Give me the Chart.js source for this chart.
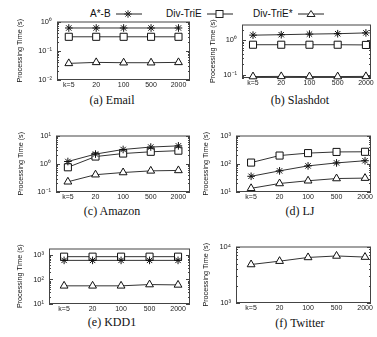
<!DOCTYPE html>
<html>
<head>
<meta charset="utf-8">
<script src="https://cdn.jsdelivr.net/npm/chart.js@4/dist/chart.umd.min.js"></script>
<style>
body{margin:0;background:#fff;width:377px;height:337px;position:relative;overflow:hidden;font-family:"Liberation Sans",Arial,sans-serif;color:#111}
canvas{position:absolute}
.cap{position:absolute;width:190px;text-align:center;font-family:"Liberation Serif","Times New Roman",serif;font-size:12px;line-height:14px}
.lg{position:absolute;top:8px;font-size:10px;line-height:12px}
svg{position:absolute;top:9px;overflow:visible}
</style>
</head>
<body>
<span class="lg" style="left:90px">A*-B</span>
<svg style="left:116px" width="27" height="10"><g stroke="#222" stroke-width="1" fill="#fff">
<line x1="0" y1="5" x2="26" y2="5"/><line x1="8.3" y1="5" x2="15.7" y2="5"/><line x1="12" y1="1.3" x2="12" y2="8.7"/><line x1="9.4" y1="2.4" x2="14.6" y2="7.6"/><line x1="9.4" y1="7.6" x2="14.6" y2="2.4"/></g></svg>
<span class="lg" style="left:166px">Div-TriE</span>
<svg style="left:207px" width="27" height="10"><g stroke="#222" stroke-width="1" fill="#fff">
<line x1="0" y1="5" x2="26" y2="5"/><rect x="9" y="1.5" width="7" height="7"/></g></svg>
<span class="lg" style="left:253px">Div-TriE*</span>
<svg style="left:298px" width="27" height="10"><g stroke="#222" stroke-width="1" fill="#fff">
<line x1="0" y1="5" x2="26" y2="5"/><polygon points="13,1.5 17,7.5 9,7.5"/></g></svg>

<div class="cap" style="left:17px;top:93px">(a) Email</div>
<div class="cap" style="left:205px;top:93px">(b) Slashdot</div>
<div class="cap" style="left:17px;top:204px">(c) Amazon</div>
<div class="cap" style="left:205px;top:204px">(d) LJ</div>
<div class="cap" style="left:17px;top:315px">(e) KDD1</div>
<div class="cap" style="left:205px;top:316px">(f) Twitter</div>

<script>
// k values on the x axis
const kLabels = ["k=5", "20", "100", "500", "2000"];
const seriesNames = ["A*-B", "Div-TriE", "Div-TriE*"];

// processing time (s)
const emailAB = [0.6, 0.6, 0.6, 0.6, 0.6];
const emailDiv = [0.3, 0.3, 0.3, 0.3, 0.3];
const emailDivStar = [0.037, 0.040, 0.039, 0.039, 0.040];

const slashAB = [1.38, 1.42, 1.48, 1.52, 1.6];
const slashDiv = [0.73, 0.73, 0.73, 0.73, 0.72];
const slashDivStar = [0.088, 0.089, 0.088, 0.088, 0.089];

const amazonAB = [1.2, 2.2, 3.2, 3.9, 4.3];
const amazonDiv = [0.75, 1.8, 2.3, 2.65, 2.9];
const amazonDivStar = [0.23, 0.41, 0.49, 0.56, 0.58];

const ljAB = [36, 56, 84, 107, 128];
const ljDiv = [110, 195, 238, 262, 265];
const ljDivStar = [13.5, 20, 25, 30, 31];

const kddAB = [600, 600, 600, 600, 600];
const kddDiv = [850, 850, 850, 850, 850];
const kddDivStar = [55, 55, 55, 62, 60];

const twitterDivStar = [4800, 5500, 6400, 6800, 6500];

const sup = {"-": "\u207b", "0": "\u2070", "1": "\u00b9", "2": "\u00b2", "3": "\u00b3", "4": "\u2074"};
function expLabel(v){
  const e = String(Math.round(Math.log10(v)));
  return "10" + e.split("").map(c => sup[c]).join("");
}

const marks = [
  {pointStyle: "star", radius: 3.8},
  {pointStyle: "rect", radius: 5},
  {pointStyle: "triangle", radius: 4.5}
];

// box = plot frame on the page [left, top, right, bottom]
const panels = [
  {series: [emailAB, emailDiv, emailDivStar], yMin: 0.01, yMax: 1, box: [57, 20, 190, 80], xr: [-0.43, 4.42], titleX: 20, col: 0},
  {series: [slashAB, slashDiv, slashDivStar], yMin: 0.08, yMax: 2.8, box: [242, 23, 371, 78], xr: [-0.39, 4.18], titleX: 213, col: 1},
  {series: [amazonAB, amazonDiv, amazonDivStar], yMin: 0.1, yMax: 10, box: [56, 134, 190, 192], xr: [-0.43, 4.42], titleX: 21, col: 0},
  {series: [ljAB, ljDiv, ljDivStar], yMin: 10, yMax: 1000, box: [236, 134, 371, 192], xr: [-0.53, 4.21], titleX: 206, col: 1},
  {series: [kddAB, kddDiv, kddDivStar], yMin: 10, yMax: 1830, box: [49, 247, 190, 304], xr: [-0.53, 4.42], titleX: 20, col: 0},
  {series: [null, null, twitterDivStar], yMin: 1000, yMax: 10000, box: [236, 245, 371, 303], xr: [-0.53, 4.21], titleX: 206, col: 1}
];

const frame = {
  id: "frame",
  beforeDatasetsDraw(chart){
    const {ctx, chartArea: a, scales: {y}} = chart;
    ctx.save();
    ctx.strokeStyle = "#444";
    ctx.lineWidth = 1;
    ctx.strokeRect(a.left + 0.5, a.top + 0.5, a.right - a.left - 1, a.bottom - a.top - 1);
    ctx.beginPath();
    for(let d = Math.floor(Math.log10(y.min)); d <= Math.ceil(Math.log10(y.max)); d++){
      for(let m = 1; m <= 9; m++){
        const v = m * Math.pow(10, d);
        if(v < y.min * 0.999 || v > y.max * 1.001) continue;
        const py = Math.round(y.getPixelForValue(v)) + 0.5;
        const len = m === 1 ? 4 : 2;
        ctx.moveTo(a.left, py); ctx.lineTo(a.left + len, py);
        ctx.moveTo(a.right, py); ctx.lineTo(a.right - len, py);
      }
    }
    ctx.stroke();
    ctx.restore();
  }
};

const sans = "'Liberation Sans', Arial, sans-serif";

panels.forEach(p => {
  const colLeft = p.col ? 190 : 0;
  const cw = p.col ? 187 : 196;
  const [l, t, r, b] = p.box;
  const padT = 8, xH = 11, padB = 2;
  const padL = p.titleX - colLeft - 3.6;
  const yW = l - colLeft - padL;
  const c = document.createElement("canvas");
  c.width = cw;
  c.height = padT + (b - t) + xH + padB;
  c.style.left = colLeft + "px";
  c.style.top = (t - padT) + "px";
  document.body.appendChild(c);

  const datasets = [];
  p.series.forEach((vals, i) => {
    if(!vals) return;
    datasets.push({
      label: seriesNames[i],
      data: vals.map((v, j) => ({x: j, y: v})),
      borderColor: "#333",
      borderWidth: 1,
      pointStyle: marks[i].pointStyle,
      pointRadius: marks[i].radius,
      pointBorderColor: "#111",
      pointBackgroundColor: "#fff",
      pointBorderWidth: 1,
      tension: 0,
      clip: false
    });
  });

  new Chart(c, {
    type: "line",
    data: {datasets},
    options: {
      responsive: false,
      animation: false,
      devicePixelRatio: 1,
      layout: {padding: {left: padL, top: padT, right: colLeft + cw - r, bottom: padB}},
      plugins: {legend: {display: false}, tooltip: {enabled: false}},
      scales: {
        x: {
          type: "linear",
          min: p.xr[0],
          max: p.xr[1],
          afterBuildTicks: s => { s.ticks = kLabels.map((_, i) => ({value: i})); },
          afterFit: s => { s.height = xH; },
          grid: {display: false, drawTicks: false},
          border: {display: false},
          ticks: {
            callback: v => kLabels[v],
            autoSkip: false, maxRotation: 0, padding: 1,
            color: "#222", font: {family: sans, size: 7}
          }
        },
        y: {
          type: "logarithmic",
          min: p.yMin,
          max: p.yMax,
          afterBuildTicks: s => {
            const ticks = [];
            for(let d = Math.ceil(Math.log10(p.yMin) - 1e-9); Math.pow(10, d) <= p.yMax * 1.0001; d++) ticks.push({value: Math.pow(10, d)});
            s.ticks = ticks;
          },
          afterFit: s => { s.width = yW; },
          grid: {display: false, drawTicks: false},
          border: {display: false},
          ticks: {callback: v => expLabel(v), padding: 5, color: "#222", font: {family: sans, size: 7.5}},
          title: {display: true, text: "Processing Time (s)", padding: 0, color: "#111", font: {family: sans, size: 7.2, lineHeight: 1}}
        }
      }
    },
    plugins: [frame]
  });
});
</script>
</body>
</html>
